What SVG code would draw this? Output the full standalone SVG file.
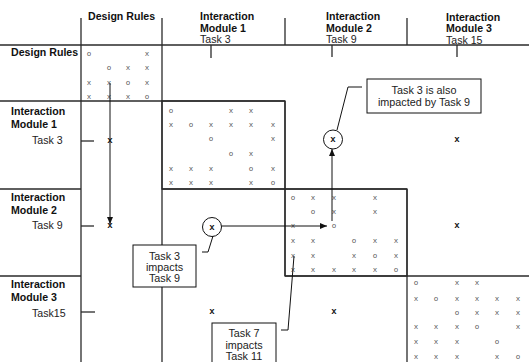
<svg xmlns="http://www.w3.org/2000/svg" width="529" height="362" viewBox="0 0 529 362">
<defs>
<style>
.ln{stroke:#2a2a2a;stroke-width:1.3;fill:none}
.cl{stroke:#111;stroke-width:1;fill:none}
.bx{stroke:#111;stroke-width:1;fill:#fff}
.b{font-family:"Liberation Sans",Arial,sans-serif;font-size:10.6px;font-weight:bold;fill:#111}
.t{font-family:"Liberation Sans",Arial,sans-serif;font-size:10.6px;fill:#222}
.c{font-family:"Liberation Sans",Arial,sans-serif;font-size:10.8px;fill:#222;text-anchor:middle}
.m{font-family:"Liberation Mono","Courier New",monospace;font-size:7.5px;fill:#555;text-anchor:middle}
.k{font-family:"Liberation Mono","Courier New",monospace;font-size:9px;font-weight:bold;fill:#111;text-anchor:middle}
</style>
<marker id="ah" markerWidth="7" markerHeight="6" refX="7" refY="3" orient="auto" markerUnits="userSpaceOnUse">
<path d="M0,0 L7,3 L0,6 Z" fill="#111"/>
</marker>
</defs>
<rect width="529" height="362" fill="#fff"/>

<g id="grid">
<line class="ln" x1="0" y1="45" x2="529" y2="45"/>
<line class="ln" x1="0" y1="101" x2="285" y2="101"/>
<line class="ln" x1="0" y1="189" x2="81" y2="189"/>
<line class="ln" x1="162" y1="189" x2="407" y2="189"/>
<line class="ln" x1="0" y1="276" x2="81" y2="276"/>
<line class="ln" x1="285" y1="276" x2="529" y2="276"/>
<line class="ln" x1="81" y1="18" x2="81" y2="362"/>
<line class="ln" x1="162" y1="18" x2="162" y2="362"/>
<line class="ln" x1="285" y1="18" x2="285" y2="45"/>
<line class="ln" x1="285" y1="101" x2="285" y2="276"/>
<line class="ln" x1="407" y1="18" x2="407" y2="45"/>
<line class="ln" x1="407" y1="189" x2="407" y2="362"/>
<line class="ln" x1="211" y1="45" x2="211" y2="58"/>
<line class="ln" x1="332" y1="45" x2="332" y2="57"/>
<line class="ln" x1="457" y1="45" x2="457" y2="57"/>
<line class="ln" x1="81" y1="141" x2="94" y2="141"/>
<line class="ln" x1="81" y1="226" x2="94" y2="226"/>
<line class="ln" x1="81" y1="312" x2="95" y2="312"/>
</g>

<g id="col-headers">
<text class="b" x="88" y="20">Design Rules</text>
<text class="b" x="200" y="20">Interaction</text>
<text class="b" x="200" y="32">Module 1</text>
<text class="t" x="200" y="43">Task 3</text>
<text class="b" x="326" y="20">Interaction</text>
<text class="b" x="326" y="32">Module 2</text>
<text class="t" x="326" y="43">Task 9</text>
<text class="b" x="446" y="20.5">Interaction</text>
<text class="b" x="446" y="32">Module 3</text>
<text class="t" x="446" y="43.5">Task 15</text>
</g>

<g id="row-headers">
<text class="b" x="11" y="56">Design Rules</text>
<text class="b" x="11" y="115">Interaction</text>
<text class="b" x="11" y="128">Module 1</text>
<text class="t" x="32" y="144">Task 3</text>
<text class="b" x="11" y="201">Interaction</text>
<text class="b" x="11" y="214">Module 2</text>
<text class="t" x="32" y="229">Task 9</text>
<text class="b" x="11" y="288">Interaction</text>
<text class="b" x="11" y="301">Module 3</text>
<text class="t" x="32" y="317">Task15</text>
</g>

<g id="block-design-rules">
<text class="m" x="89" y="56">o</text><text class="m" x="147" y="56">x</text>
<text class="m" x="109" y="70">o</text><text class="m" x="128" y="70">x</text><text class="m" x="147" y="70">x</text>
<text class="m" x="89" y="85">x</text><text class="m" x="109" y="85">x</text><text class="m" x="128" y="85">o</text><text class="m" x="147" y="85">x</text>
<text class="m" x="89" y="99">x</text><text class="m" x="109" y="99">x</text><text class="m" x="128" y="99">x</text><text class="m" x="147" y="99">o</text>
</g>

<g id="block-module-1">
<rect class="ln" x="162" y="101" width="123" height="88"/>
<text class="m" x="171" y="113">o</text><text class="m" x="231" y="113">x</text><text class="m" x="251" y="113">x</text>
<text class="m" x="171" y="127">x</text><text class="m" x="191" y="127">o</text><text class="m" x="211" y="127">x</text><text class="m" x="231" y="127">x</text><text class="m" x="251" y="127">x</text><text class="m" x="273" y="127">x</text>
<text class="m" x="211" y="141">o</text><text class="m" x="273" y="141">x</text>
<text class="m" x="231" y="156">o</text><text class="m" x="251" y="156">x</text>
<text class="m" x="171" y="171">x</text><text class="m" x="191" y="171">x</text><text class="m" x="211" y="171">x</text><text class="m" x="251" y="171">o</text><text class="m" x="273" y="171">x</text>
<text class="m" x="171" y="185">x</text><text class="m" x="191" y="185">x</text><text class="m" x="211" y="185">x</text><text class="m" x="251" y="185">x</text><text class="m" x="273" y="185">o</text>
</g>

<g id="block-module-2">
<rect class="ln" x="285" y="189" width="122" height="87"/>
<text class="m" x="293" y="200">o</text><text class="m" x="313" y="200">x</text><text class="m" x="334" y="200">x</text><text class="m" x="375" y="200">x</text>
<text class="m" x="313" y="214">o</text><text class="m" x="334" y="214">x</text><text class="m" x="375" y="214">x</text>
<text class="m" x="293" y="228">x</text><text class="m" x="334" y="228">o</text>
<text class="m" x="293" y="243">x</text><text class="m" x="313" y="243">x</text><text class="m" x="354" y="243">o</text><text class="m" x="375" y="243">x</text><text class="m" x="396" y="243">x</text>
<text class="m" x="293" y="258">x</text><text class="m" x="313" y="258">x</text><text class="m" x="354" y="258">x</text><text class="m" x="375" y="258">o</text><text class="m" x="396" y="258">x</text>
<text class="m" x="293" y="272">x</text><text class="m" x="313" y="272">x</text><text class="m" x="334" y="272">x</text><text class="m" x="354" y="272">x</text><text class="m" x="375" y="272">x</text><text class="m" x="396" y="272">o</text>
</g>

<g id="block-module-3">
<text class="m" x="416" y="285">o</text><text class="m" x="457" y="285">x</text><text class="m" x="477" y="285">x</text>
<text class="m" x="416" y="301">x</text><text class="m" x="436" y="301">o</text><text class="m" x="457" y="301">x</text><text class="m" x="477" y="301">x</text><text class="m" x="497" y="301">x</text><text class="m" x="518" y="301">x</text>
<text class="m" x="457" y="315">o</text><text class="m" x="477" y="315">x</text><text class="m" x="497" y="315">x</text><text class="m" x="518" y="315">x</text>
<text class="m" x="416" y="329">x</text><text class="m" x="436" y="329">x</text><text class="m" x="457" y="329">x</text><text class="m" x="477" y="329">o</text><text class="m" x="518" y="329">x</text>
<text class="m" x="416" y="344">x</text><text class="m" x="436" y="344">x</text><text class="m" x="457" y="344">x</text><text class="m" x="497" y="344">o</text>
<text class="m" x="416" y="359">x</text><text class="m" x="436" y="359">x</text><text class="m" x="457" y="359">x</text><text class="m" x="497" y="359">x</text><text class="m" x="518" y="359">o</text>
</g>

<g id="cross-impacts">
<text class="k" x="110" y="143">x</text>
<text class="k" x="110" y="228">x</text>
<text class="k" x="457" y="142">x</text>
<text class="k" x="457" y="228">x</text>
<text class="k" x="212" y="314">x</text>
<text class="k" x="334" y="314">x</text>
</g>

<g id="circled-t3-t9">
<circle class="cl" cx="333" cy="139.5" r="9.5"/>
<text class="k" x="333" y="142">x</text>
</g>
<g id="circled-t9-t3">
<circle class="cl" cx="212" cy="227" r="9.5"/>
<text class="k" x="212" y="229.5">x</text>
</g>

<g id="connectors">
<line class="cl" x1="110" y1="83" x2="110" y2="224" marker-end="url(#ah)"/>
<line class="cl" x1="221.5" y1="226" x2="327" y2="226" marker-end="url(#ah)"/>
<line class="cl" x1="332" y1="221" x2="332" y2="149" marker-end="url(#ah)"/>
<polyline class="cl" points="362,87 348,87 337,130"/>
<polyline class="cl" points="202,252 208,252 213,236"/>
<polyline class="cl" points="281,330 288,330 294,256"/>
</g>

<g id="note-also-impacted">
<rect class="bx" x="367" y="79" width="114" height="34"/>
<text class="c" x="424" y="94">Task 3 is also</text>
<text class="c" x="424" y="106">impacted by Task 9</text>
</g>
<g id="note-t3-impacts-t9">
<rect class="bx" x="133" y="245" width="63" height="42"/>
<text class="c" x="164.5" y="260">Task 3</text>
<text class="c" x="164.5" y="271">impacts</text>
<text class="c" x="164.5" y="282">Task 9</text>
</g>
<g id="note-t7-impacts-t11">
<rect class="bx" x="212" y="323" width="64" height="44"/>
<text class="c" x="244" y="337">Task 7</text>
<text class="c" x="244" y="348.5">impacts</text>
<text class="c" x="244" y="360">Task 11</text>
</g>
</svg>
